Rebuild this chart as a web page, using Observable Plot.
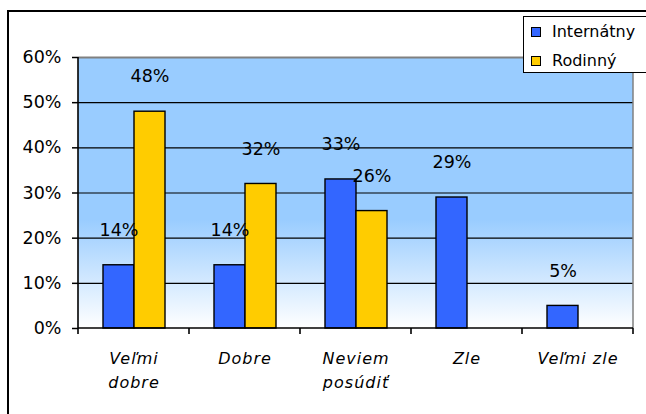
<!DOCTYPE html>
<html>
<head>
<meta charset="utf-8">
<script src="https://cdn.jsdelivr.net/npm/d3@7"></script>
<script src="https://cdn.jsdelivr.net/npm/@observablehq/plot@0.6"></script>
<style>
  html, body { margin: 0; padding: 0; background: #fff; overflow: hidden; }
  #wrap { position: relative; width: 646px; height: 414px; }
  #legend { position: absolute; left: 523px; top: 16px; width: 140px; height: 55px;
    border: 1.5px solid #000; background: #fff; font-family: "DejaVu Sans"; font-size: 16px; color: #000; }
  .item { position: absolute; left: 0; height: 20px; line-height: 20px; }
  .sw { position: absolute; left: 7px; top: 5px; width: 8px; height: 8px; border: 1.3px solid #000; }
  .lab { position: absolute; left: 28px; top: 0; white-space: nowrap; }
</style>
</head>
<body>
<div id="wrap"></div>
<script>
const categories = ["Veľmi dobre", "Dobre", "Neviem posúdiť", "Zle", "Veľmi zle"];
const tickLabels = ["Veľmi\ndobre", "Dobre", "Neviem\nposúdiť", "Zle", "Veľmi zle"];
const series = ["Internátny", "Rodinný"];
const internatny = [14, 14, 33, 29, 5];
const rodinny = [48, 32, 26, null, null];
const yTicks = [0, 10, 20, 30, 40, 50, 60];
const gridTicks = [10, 20, 30, 40, 50];
const colors = ["#3366FF", "#FFCC00"];

const values = [internatny, rodinny];
const data = categories.flatMap((c, i) =>
  series.map((s, j) => ({cat: c, s, v: values[j][i]}))
).filter(d => d.v != null);

const chart = Plot.plot({
  width: 646,
  height: 414,
  marginLeft: 78,
  marginRight: 13,
  marginTop: 57,
  marginBottom: 86,
  style: {fontFamily: "DejaVu Sans", background: "transparent", color: "#000", overflow: "visible"},
  fx: {domain: categories, padding: 0, label: null},
  x: {domain: series, paddingInner: 0, paddingOuter: 0.76, axis: null},
  y: {domain: [0, 60]},
  color: {domain: series, range: colors},
  marks: [
    Plot.ruleY(gridTicks, {stroke: "#000", strokeWidth: 1.2}),
    Plot.ruleY([60], {stroke: "#808080", strokeWidth: 1.8}),
    Plot.barY(data, {fx: "cat", x: "s", y: "v", fill: "s", stroke: "#000", strokeWidth: 1.4}),
    Plot.text(data, {fx: "cat", x: "s", y: "v", text: d => d.v + "%", dy: -35, fontSize: 17.5, fill: "#000"}),
    Plot.axisY({ticks: yTicks, tickFormat: d => d + "%", tickSize: 6, tickPadding: 11, fontSize: 17.5, label: null, strokeWidth: 1.5}),
    Plot.axisFx({anchor: "bottom", tickSize: 0, tickPadding: 18, fontSize: 16, fontStyle: "italic",
      lineHeight: 1.5, label: null, tickFormat: d => tickLabels[categories.indexOf(d)]})
  ]
});

document.getElementById("wrap").appendChild(chart);

// Decorations using the chart's own scales
const svg = d3.select(chart);
const fx = chart.scale("fx");
const y = chart.scale("y");
const x0 = fx.apply(categories[0]);
const x1 = fx.apply(categories[categories.length - 1]) + fx.bandwidth;
const y0 = y.apply(0);
const yTop = y.apply(60);

const defs = svg.insert("defs", ":first-child");
const grad = defs.append("linearGradient").attr("id", "bgGrad")
  .attr("x1", 0).attr("y1", 0).attr("x2", 0).attr("y2", 1);
grad.append("stop").attr("offset", 0).attr("stop-color", "#99CCFF");
grad.append("stop").attr("offset", 0.6).attr("stop-color", "#99CCFF");
grad.append("stop").attr("offset", 1).attr("stop-color", "#FFFFFF");

svg.insert("rect", "defs + *")
  .attr("x", x0).attr("y", yTop).attr("width", x1 - x0).attr("height", y0 - yTop)
  .attr("fill", "url(#bgGrad)");

// outer chart border (top and left edges visible)
svg.append("path").attr("d", `M8,${414}V11H646`).attr("fill", "none").attr("stroke", "#000").attr("stroke-width", 2);

// right plot-area edge
svg.append("line").attr("x1", x1).attr("x2", x1).attr("y1", yTop).attr("y2", y0)
  .attr("stroke", "#808080").attr("stroke-width", 1.5);
// axes lines
svg.append("line").attr("x1", x0).attr("x2", x0).attr("y1", yTop).attr("y2", y0)
  .attr("stroke", "#000").attr("stroke-width", 1.6);
svg.append("line").attr("x1", x0).attr("x2", x1).attr("y1", y0).attr("y2", y0)
  .attr("stroke", "#000").attr("stroke-width", 1.6);
// category boundary ticks
const bounds = categories.map(c => fx.apply(c)).concat([x1]);
svg.selectAll(null).data(bounds).join("line")
  .attr("x1", d => d).attr("x2", d => d).attr("y1", y0).attr("y2", y0 + 6)
  .attr("stroke", "#000").attr("stroke-width", 1.6);

svg.selectAll('g[aria-label="fx-axis tick label"]').style("letter-spacing", "1px");

// legend
const legend = d3.select("#wrap").append("div").attr("id", "legend");
series.forEach((s, i) => {
  const it = legend.append("div").attr("class", "item").style("top", (5 + i * 29) + "px");
  it.append("div").attr("class", "sw").style("background", colors[i]);
  it.append("div").attr("class", "lab").text(s);
});
</script>
</body>
</html>
